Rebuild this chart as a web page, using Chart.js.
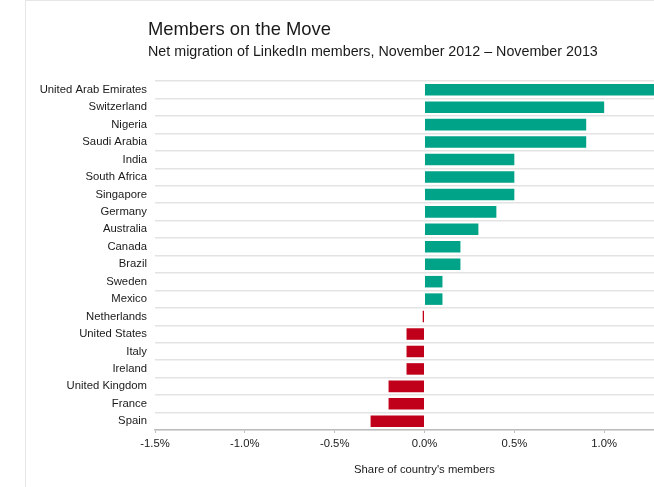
<!DOCTYPE html>
<html>
<head>
<meta charset="utf-8">
<script src="https://cdn.jsdelivr.net/npm/chart.js@4.4.1/dist/chart.umd.min.js"></script>
<style>
  html, body { margin: 0; padding: 0; background: #fff; overflow: hidden; width: 654px; height: 487px; }
  #frame { position: absolute; left: 25px; top: 0; width: 700px; height: 487px; border-left: 1px solid #e6e6e6; border-top: 1px solid #e6e6e6; box-sizing: border-box; }
  #wrap { position: absolute; left: 0; top: 0; width: 720px; height: 487px; }
  .t { position: absolute; left: 148px; font-family: "Liberation Sans", Arial, sans-serif; color: #1a1a1a; white-space: nowrap; line-height: 1; }
  #title { top: 20px; font-size: 18.4px; }
  #subtitle { top: 44px; font-size: 14.3px; }
</style>
</head>
<body>
<div id="frame"></div>
<div id="wrap"><canvas id="c" width="720" height="487"></canvas></div>
<div class="t" id="title">Members on the Move</div>
<div class="t" id="subtitle">Net migration of LinkedIn members, November 2012 – November 2013</div>
<script>
const countries = ["United Arab Emirates","Switzerland","Nigeria","Saudi Arabia","India","South Africa","Singapore","Germany","Australia","Canada","Brazil","Sweden","Mexico","Netherlands","United States","Italy","Ireland","United Kingdom","France","Spain"];
const netMigration = [1.3,1.0,0.9,0.9,0.5,0.5,0.5,0.4,0.3,0.2,0.2,0.1,0.1,-0.01,-0.1,-0.1,-0.1,-0.2,-0.2,-0.3];
const xTicks = [-1.5,-1.0,-0.5,0.0,0.5,1.0,1.5];
const xTitle = "Share of country's members";

const FONT = "'Liberation Sans', Arial, sans-serif";
const barColors = netMigration.map(v => v >= 0 ? '#00A388' : '#C0001A');

new Chart(document.getElementById('c'), {
  type: 'bar',
  data: {
    labels: countries,
    datasets: [{
      data: netMigration,
      backgroundColor: barColors,
      borderWidth: 0,
      barPercentage: 0.66,
      categoryPercentage: 1.0
    }]
  },
  options: {
    indexAxis: 'y',
    responsive: false,
    animation: false,
    devicePixelRatio: 1,
    layout: { padding: { left: 0, top: 81, right: 26, bottom: 0 } },
    plugins: { legend: { display: false }, tooltip: { enabled: false }, title: { display: false } },
    scales: {
      x: {
        min: -1.5, max: 1.5,
        afterFit: s => { s.height = 57; },
        afterBuildTicks: s => { s.ticks = xTicks.map(v => ({ value: v })); },
        border: { display: true, color: '#bdbdbd', width: 1.5 },
        grid: { drawOnChartArea: false, drawTicks: true, tickLength: 3, color: '#bdbdbd', lineWidth: 1 },
        ticks: {
          padding: 4,
          color: '#1a1a1a',
          font: { family: FONT, size: 11.3 },
          callback: v => Number(v).toFixed(1) + '%'
        },
        title: {
          display: true, text: xTitle, color: '#1a1a1a',
          font: { family: FONT, size: 11.3 },
          padding: { top: 0, bottom: 10 }
        }
      },
      y: {
        afterFit: s => { s.width = 155; },
        border: { display: false },
        grid: { drawTicks: false, color: '#e3e3e3', lineWidth: 1.5, offset: true },
        ticks: { padding: 8, color: '#1a1a1a', font: { family: FONT, size: 11.3 }, autoSkip: false }
      }
    }
  }
});
</script>
</body>
</html>
